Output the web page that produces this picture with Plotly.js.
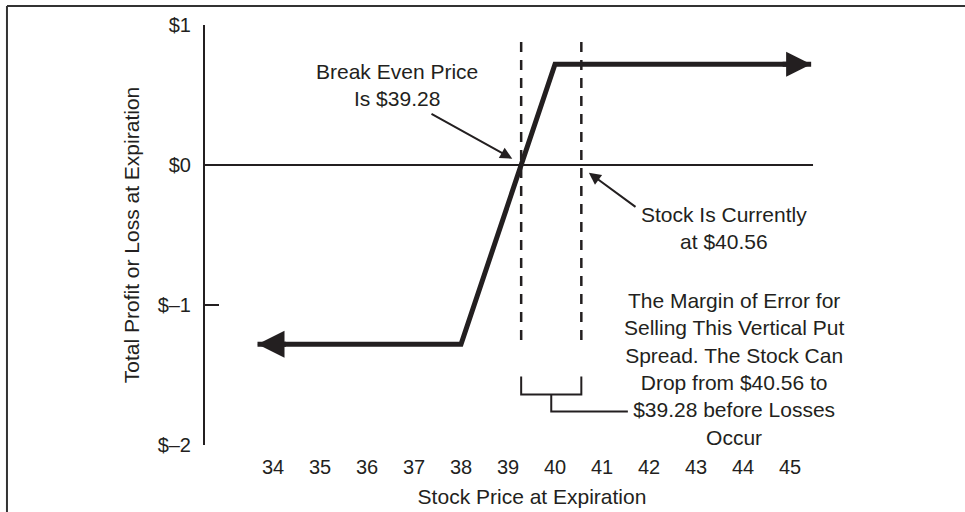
<!DOCTYPE html>
<html>
<head>
<meta charset="utf-8">
<script src="https://cdn.plot.ly/plotly-3.0.1.min.js"></script>
<style>html,body{margin:0;padding:0;background:#fff;}#chart{width:965px;height:512px;}</style>
</head>
<body>
<div id="chart"></div>
<script>
// ---- data ----
const payoffPrice = [33.67, 38, 40, 45.45];
const payoffValue = [-1.28, -1.28, 0.72, 0.72];
const xTickVals = [34, 35, 36, 37, 38, 39, 40, 41, 42, 43, 44, 45];
const xTickText = ['34', '35', '36', '37', '38', '39', '40', '41', '42', '43', '44', '45'];
const yTickVals = [-2, -1, 0, 1];
const yTickText = ['$\u20132', '$\u20131', '$0', '$1'];
const breakEvenPrice = 39.28;
const currentPrice = 40.56;
const dashedSpan = [-1.25, 0.91];
const zeroLineX = [32.553, 45.49];
const bracketY = [-1.51, -1.64];
const bracketStem = { x: [39.92, 41.55], y: [-1.64, -1.76] };

const INK = '#231f20';
const FONT = 'Liberation Sans, Arial, Helvetica, sans-serif';

const traces = [
  { x: zeroLineX, y: [0, 0], mode: 'lines', line: { color: INK, width: 2 }, hoverinfo: 'skip' },
  { x: [breakEvenPrice, breakEvenPrice], y: dashedSpan, mode: 'lines',
    line: { color: INK, width: 2.5, dash: '10px,8px' }, hoverinfo: 'skip' },
  { x: [currentPrice, currentPrice], y: dashedSpan, mode: 'lines',
    line: { color: INK, width: 2.5, dash: '10px,8px' }, hoverinfo: 'skip' },
  { x: [breakEvenPrice, breakEvenPrice, currentPrice, currentPrice],
    y: [bracketY[0], bracketY[1], bracketY[1], bracketY[0]], mode: 'lines',
    line: { color: INK, width: 2 }, hoverinfo: 'skip' },
  { x: [bracketStem.x[0], bracketStem.x[0], bracketStem.x[1]],
    y: [bracketStem.y[0], bracketStem.y[1], bracketStem.y[1]], mode: 'lines',
    line: { color: INK, width: 2 }, hoverinfo: 'skip' },
  { x: payoffPrice, y: payoffValue, mode: 'lines', line: { color: INK, width: 5 }, hoverinfo: 'skip' }
];

const n = payoffPrice.length;
const annotations = [
  // payoff arrow heads
  { x: payoffPrice[0], y: payoffValue[0], xref: 'x', yref: 'y', ax: 30, ay: 0, text: '',
    showarrow: true, arrowhead: 2, arrowsize: 1.08, arrowwidth: 5, arrowcolor: INK },
  { x: payoffPrice[n - 1], y: payoffValue[n - 1], xref: 'x', yref: 'y', ax: -30, ay: 0, text: '',
    showarrow: true, arrowhead: 2, arrowsize: 1.0, arrowwidth: 5, arrowcolor: INK },
  // break even callout
  { x: 39.09, y: 0.045, xref: 'x', yref: 'y', ax: 37.34, ay: 0.371, axref: 'x', ayref: 'y', text: '',
    showarrow: true, arrowhead: 2, arrowsize: 1.2, arrowwidth: 2, arrowcolor: INK },
  { x: 36.64, y: 0.571, xref: 'x', yref: 'y', showarrow: false,
    text: 'Break Even Price<br>Is $39.28', font: { family: FONT, size: 21, color: INK } },
  // current price callout
  { x: 40.72, y: -0.055, xref: 'x', yref: 'y', ax: 41.745, ay: -0.307, axref: 'x', ayref: 'y', text: '',
    showarrow: true, arrowhead: 2, arrowsize: 1.2, arrowwidth: 2, arrowcolor: INK },
  { x: 43.6, y: -0.45, xref: 'x', yref: 'y', showarrow: false,
    text: 'Stock Is Currently<br>at $40.56', font: { family: FONT, size: 21, color: INK } },
  // margin of error
  { x: 43.81, y: -1.457, xref: 'x', yref: 'y', showarrow: false,
    text: 'The Margin of Error for<br>Selling This Vertical Put<br>Spread. The Stock Can<br>Drop from $40.56 to<br>$39.28 before Losses<br>Occur',
    font: { family: FONT, size: 21, color: INK } }
];

const shapes = [
  { type: 'line', xref: 'paper', yref: 'paper', x0: -0.3028, x1: -0.3028, y0: 1.0452, y1: -0.2,
    line: { color: '#333', width: 2 } },
  { type: 'line', xref: 'paper', yref: 'paper', x0: -0.3028, x1: 1.2, y0: 1.0452, y1: 1.0452,
    line: { color: '#333', width: 2 } }
];

const layout = {
  width: 965, height: 512,
  margin: { l: 205, r: 106, t: 25, b: 67 },
  paper_bgcolor: '#fff', plot_bgcolor: '#fff',
  showlegend: false,
  font: { family: FONT, size: 21, color: INK },
  xaxis: {
    range: [32.553, 46.468], showgrid: false, zeroline: false, showline: false,
    tickmode: 'array', tickvals: xTickVals, ticktext: xTickText,
    ticks: '', ticklabelstandoff: 8,
    tickfont: { family: FONT, size: 20, color: INK },
    title: { text: 'Stock Price at Expiration', font: { family: FONT, size: 21, color: INK }, standoff: 12 },
    fixedrange: true
  },
  yaxis: {
    range: [-2, 1], showgrid: false, zeroline: false,
    showline: true, linecolor: INK, linewidth: 2,
    tickmode: 'array', tickvals: yTickVals, ticktext: yTickText,
    ticks: 'inside', ticklen: 14, tickwidth: 2, tickcolor: INK,
    ticklabelstandoff: 8,
    tickfont: { family: FONT, size: 20, color: INK },
    title: { text: 'Total Profit or Loss at Expiration', font: { family: FONT, size: 21, color: INK }, standoff: 12 },
    fixedrange: true
  },
  annotations: annotations,
  shapes: shapes
};

Plotly.newPlot('chart', traces, layout, { displayModeBar: false, staticPlot: true });
</script>
</body>
</html>
